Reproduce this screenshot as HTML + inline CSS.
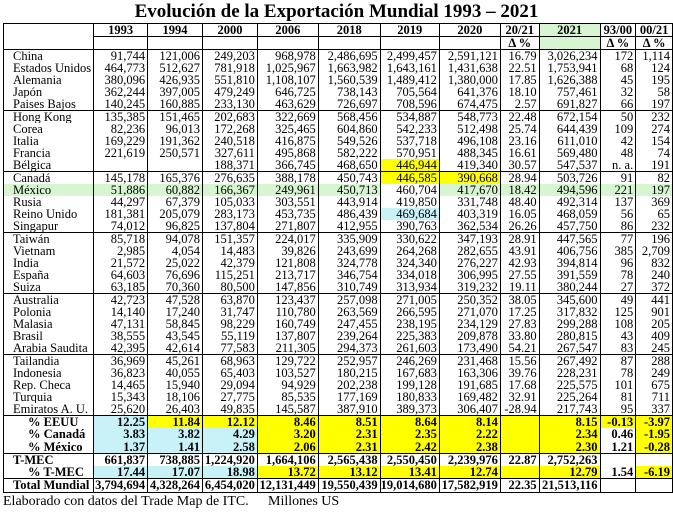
<!DOCTYPE html>
<html><head><meta charset="utf-8"><style>
body{margin:0;background:#fff;width:673px;height:513px;overflow:hidden;font-family:"Liberation Serif",serif;}
h1{position:absolute;left:0;top:0;width:673px;margin:0;text-align:center;font-size:19px;line-height:24px;font-weight:bold;}
table{position:absolute;left:3px;top:23px;border-collapse:collapse;table-layout:fixed;font-size:12.5px;}
td{border-left:1px solid #000;border-right:1px solid #000;padding:0 2px 0 0;text-align:right;white-space:nowrap;overflow:hidden;line-height:12px;height:12px;}
td:first-child{text-align:left;padding-left:9px;}
tr.h td{text-align:center;font-weight:bold;height:12px;line-height:12px;padding:0;}
tr.t td{border-top:1px solid #000;}
tr.b td{font-weight:bold;height:12.3px;line-height:12.3px}
tr.b td:first-child{padding-left:24px}
tr.tm td:first-child{padding-left:9px}
.g{background:#d6f5d0}.y{background:#ffff00}.c{background:#c8f2f7}
.foot{position:absolute;top:494px;font-size:14px;line-height:16px;}
</style></head><body>
<h1>Evolución de la Exportación Mundial 1993 – 2021</h1>
<table>
<colgroup><col style="width:87px"><col style="width:54px"><col style="width:55px"><col style="width:55px"><col style="width:61px"><col style="width:62px"><col style="width:59px"><col style="width:61px"><col style="width:39px"><col style="width:61px"><col style="width:36px"><col style="width:37px"></colgroup>
<tr class="h t"><td></td><td style="border-bottom:1px solid #000">1993</td><td style="border-bottom:1px solid #000">1994</td><td style="border-bottom:1px solid #000">2000</td><td style="border-bottom:1px solid #000">2006</td><td style="border-bottom:1px solid #000">2018</td><td style="border-bottom:1px solid #000">2019</td><td style="border-bottom:1px solid #000">2020</td><td style="border-bottom:1px solid #000">20/21</td><td class="g" style="border-bottom:1px solid #000">2021</td><td style="border-bottom:1px solid #000">93/00</td><td style="border-bottom:1px solid #000">00/21</td></tr>
<tr class="h"><td></td><td></td><td></td><td></td><td></td><td></td><td></td><td></td><td>Δ %</td><td class="g"></td><td>Δ %</td><td>Δ %</td></tr>
<tr class="t"><td>China</td><td>91,744</td><td>121,006</td><td>249,203</td><td>968,978</td><td>2,486,695</td><td>2,499,457</td><td>2,591,121</td><td>16.79</td><td>3,026,234</td><td>172</td><td>1,114</td></tr>
<tr><td>Estados Unidos</td><td>464,773</td><td>512,627</td><td>781,918</td><td>1,025,967</td><td>1,663,982</td><td>1,643,161</td><td>1,431,638</td><td>22.51</td><td>1,753,941</td><td>68</td><td>124</td></tr>
<tr><td>Alemania</td><td>380,096</td><td>426,935</td><td>551,810</td><td>1,108,107</td><td>1,560,539</td><td>1,489,412</td><td>1,380,000</td><td>17.85</td><td>1,626,388</td><td>45</td><td>195</td></tr>
<tr><td>Japón</td><td>362,244</td><td>397,005</td><td>479,249</td><td>646,725</td><td>738,143</td><td>705,564</td><td>641,376</td><td>18.10</td><td>757,461</td><td>32</td><td>58</td></tr>
<tr><td>Paises Bajos</td><td>140,245</td><td>160,885</td><td>233,130</td><td>463,629</td><td>726,697</td><td>708,596</td><td>674,475</td><td>2.57</td><td>691,827</td><td>66</td><td>197</td></tr>
<tr class="t"><td>Hong Kong</td><td>135,385</td><td>151,465</td><td>202,683</td><td>322,669</td><td>568,456</td><td>534,887</td><td>548,773</td><td>22.48</td><td>672,154</td><td>50</td><td>232</td></tr>
<tr><td>Corea</td><td>82,236</td><td>96,013</td><td>172,268</td><td>325,465</td><td>604,860</td><td>542,233</td><td>512,498</td><td>25.74</td><td>644,439</td><td>109</td><td>274</td></tr>
<tr><td>Italia</td><td>169,229</td><td>191,362</td><td>240,518</td><td>416,875</td><td>549,526</td><td>537,718</td><td>496,108</td><td>23.16</td><td>611,010</td><td>42</td><td>154</td></tr>
<tr><td>Francia</td><td>221,619</td><td>250,571</td><td>327,611</td><td>495,868</td><td>582,222</td><td>570,951</td><td>488,345</td><td>16.61</td><td>569,480</td><td>48</td><td>74</td></tr>
<tr><td>Bélgica</td><td></td><td></td><td>188,371</td><td>366,745</td><td>468,650</td><td class="y">446,944</td><td>419,340</td><td>30.57</td><td>547,537</td><td>n. a.</td><td>191</td></tr>
<tr class="t"><td>Canadá</td><td>145,178</td><td>165,376</td><td>276,635</td><td>388,178</td><td>450,743</td><td class="y">446,585</td><td class="y">390,668</td><td>28.94</td><td>503,726</td><td>91</td><td>82</td></tr>
<tr class="g"><td>México</td><td>51,886</td><td>60,882</td><td>166,367</td><td>249,961</td><td>450,713</td><td style="background:#fff">460,704</td><td>417,670</td><td>18.42</td><td>494,596</td><td>221</td><td>197</td></tr>
<tr><td>Rusia</td><td>44,297</td><td>67,379</td><td>105,033</td><td>303,551</td><td>443,914</td><td>419,850</td><td>331,748</td><td>48.40</td><td>492,314</td><td>137</td><td>369</td></tr>
<tr><td>Reino Unido</td><td>181,381</td><td>205,079</td><td>283,173</td><td>453,735</td><td>486,439</td><td class="c">469,684</td><td>403,319</td><td>16.05</td><td>468,059</td><td>56</td><td>65</td></tr>
<tr><td>Singapur</td><td>74,012</td><td>96,825</td><td>137,804</td><td>271,807</td><td>412,955</td><td>390,763</td><td>362,534</td><td>26.26</td><td>457,750</td><td>86</td><td>232</td></tr>
<tr class="t"><td>Taiwán</td><td>85,718</td><td>94,078</td><td>151,357</td><td>224,017</td><td>335,909</td><td>330,622</td><td>347,193</td><td>28.91</td><td>447,565</td><td>77</td><td>196</td></tr>
<tr><td>Vietnam</td><td>2,985</td><td>4,054</td><td>14,483</td><td>39,826</td><td>243,699</td><td>264,268</td><td>282,655</td><td>43.91</td><td>406,756</td><td>385</td><td>2,709</td></tr>
<tr><td>India</td><td>21,572</td><td>25,022</td><td>42,379</td><td>121,808</td><td>324,778</td><td>324,340</td><td>276,227</td><td>42.93</td><td>394,814</td><td>96</td><td>832</td></tr>
<tr><td>España</td><td>64,603</td><td>76,696</td><td>115,251</td><td>213,717</td><td>346,754</td><td>334,018</td><td>306,995</td><td>27.55</td><td>391,559</td><td>78</td><td>240</td></tr>
<tr><td>Suiza</td><td>63,185</td><td>70,360</td><td>80,500</td><td>147,856</td><td>310,749</td><td>313,934</td><td>319,232</td><td>19.11</td><td>380,244</td><td>27</td><td>372</td></tr>
<tr class="t"><td>Australia</td><td>42,723</td><td>47,528</td><td>63,870</td><td>123,437</td><td>257,098</td><td>271,005</td><td>250,352</td><td>38.05</td><td>345,600</td><td>49</td><td>441</td></tr>
<tr><td>Polonia</td><td>14,140</td><td>17,240</td><td>31,747</td><td>110,780</td><td>263,569</td><td>266,595</td><td>271,070</td><td>17.25</td><td>317,832</td><td>125</td><td>901</td></tr>
<tr><td>Malasia</td><td>47,131</td><td>58,845</td><td>98,229</td><td>160,749</td><td>247,455</td><td>238,195</td><td>234,129</td><td>27.83</td><td>299,288</td><td>108</td><td>205</td></tr>
<tr><td>Brasil</td><td>38,555</td><td>43,545</td><td>55,119</td><td>137,807</td><td>239,264</td><td>225,383</td><td>209,878</td><td>33.80</td><td>280,815</td><td>43</td><td>409</td></tr>
<tr><td>Arabia Saudita</td><td>42,395</td><td>42,614</td><td>77,583</td><td>211,305</td><td>294,373</td><td>261,603</td><td>173,490</td><td>54.21</td><td>267,547</td><td>83</td><td>245</td></tr>
<tr class="t"><td>Tailandia</td><td>36,969</td><td>45,261</td><td>68,963</td><td>129,722</td><td>252,957</td><td>246,269</td><td>231,468</td><td>15.56</td><td>267,492</td><td>87</td><td>288</td></tr>
<tr><td>Indonesia</td><td>36,823</td><td>40,055</td><td>65,403</td><td>103,527</td><td>180,215</td><td>167,683</td><td>163,306</td><td>39.76</td><td>228,231</td><td>78</td><td>249</td></tr>
<tr><td>Rep. Checa</td><td>14,465</td><td>15,940</td><td>29,094</td><td>94,929</td><td>202,238</td><td>199,128</td><td>191,685</td><td>17.68</td><td>225,575</td><td>101</td><td>675</td></tr>
<tr><td>Turquia</td><td>15,343</td><td>18,106</td><td>27,775</td><td>85,535</td><td>177,169</td><td>180,833</td><td>169,482</td><td>32.91</td><td>225,264</td><td>81</td><td>711</td></tr>
<tr><td>Emiratos A. U.</td><td>25,620</td><td>26,403</td><td>49,835</td><td>145,587</td><td>387,910</td><td>389,373</td><td>306,407</td><td>-28.94</td><td>217,743</td><td>95</td><td>337</td></tr>
<tr class="t b"><td>% EEUU</td><td class="c">12.25</td><td class="y">11.84</td><td class="y">12.12</td><td class="y">8.46</td><td class="y">8.51</td><td class="y">8.64</td><td class="y">8.14</td><td class="y"></td><td class="y">8.15</td><td class="y">-0.13</td><td class="y">-3.97</td></tr>
<tr class="b"><td>% Canadá</td><td class="c">3.83</td><td class="c">3.82</td><td class="c">4.29</td><td class="y">3.20</td><td class="y">2.31</td><td class="y">2.35</td><td class="y">2.22</td><td class="y"></td><td class="y">2.34</td><td>0.46</td><td class="y">-1.95</td></tr>
<tr class="b"><td>% México</td><td class="c">1.37</td><td class="c">1.41</td><td class="c">2.58</td><td class="y">2.06</td><td class="y">2.31</td><td class="y">2.42</td><td class="y">2.38</td><td class="y"></td><td class="y">2.30</td><td>1.21</td><td class="y">-0.28</td></tr>
<tr class="t b tm"><td>T-MEC</td><td>661,837</td><td>738,885</td><td>1,224,920</td><td>1,664,106</td><td>2,565,438</td><td>2,550,450</td><td>2,239,976</td><td>22.87</td><td>2,752,263</td><td></td><td></td></tr>
<tr class="b"><td>% T-MEC</td><td class="c">17.44</td><td class="c">17.07</td><td class="c">18.98</td><td class="y">13.72</td><td class="y">13.12</td><td class="y">13.41</td><td class="y">12.74</td><td class="y"></td><td class="y">12.79</td><td>1.54</td><td class="y">-6.19</td></tr>
<tr class="t b tm" style="border-bottom:1px solid #000"><td>Total Mundial</td><td>3,794,694</td><td>4,328,264</td><td>6,454,020</td><td>12,131,449</td><td>19,550,439</td><td>19,014,680</td><td>17,582,919</td><td>22.35</td><td>21,513,116</td><td></td><td></td></tr>
</table>
<div class="foot" style="left:3px">Elaborado con datos del Trade Map de ITC.</div>
<div class="foot" style="left:268px">Millones US</div>
</body></html>
